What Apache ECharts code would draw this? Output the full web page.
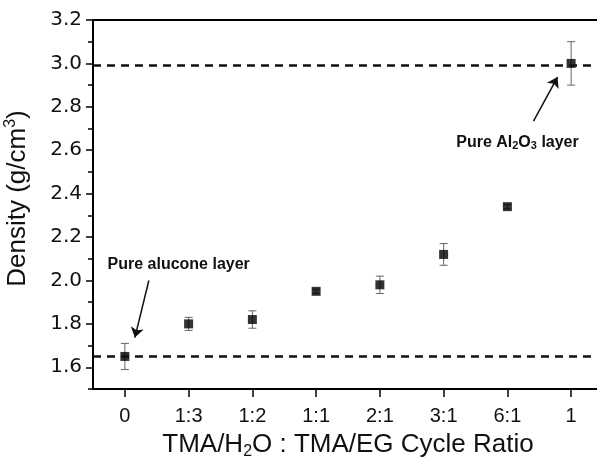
<!DOCTYPE html>
<html>
<head>
<meta charset="utf-8">
<script src="https://cdn.jsdelivr.net/npm/echarts@6/dist/echarts.min.js"></script>
<style>
  html, body { margin: 0; padding: 0; background: #fff; }
  #chart { width: 597px; height: 458px; }
</style>
</head>
<body>
<div id="chart"></div>
<script>
const ratioLabels = ['0', '1:3', '1:2', '1:1', '2:1', '3:1', '6:1', '1'];
const densityValues = [1.65, 1.80, 1.82, 1.95, 1.98, 2.12, 2.34, 3.00];
const densityErrors = [0.06, 0.03, 0.04, 0.01, 0.04, 0.05, 0.01, 0.10];
const aluconeDensity = 1.645;
const aluminaDensity = 2.99;
const majorTicks = [1.6, 1.8, 2.0, 2.2, 2.4, 2.6, 2.8, 3.0, 3.2];
const minorTicks = [1.5, 1.7, 1.9, 2.1, 2.3, 2.5, 2.7, 2.9, 3.1];

const chart = echarts.init(document.getElementById('chart'));

const positions = ratioLabels.map((_, i) => i);
const points = densityValues.map((v, i) => [i, v]);
const errData = densityValues.map((v, i) => [i, v, densityErrors[i]]);

const sans = 'Liberation Sans';

const option = {
  animation: false,
  backgroundColor: '#fff',
  grid: {
    left: 93, top: 20, right: -6, bottom: 69,
    outerBoundsMode: 'none',
    containLabel: false,
    show: true, borderColor: '#000', borderWidth: 2
  },
  xAxis: {
    type: 'value',
    min: -0.5,
    max: 7.5,
    axisLine: { show: true, onZero: false, lineStyle: { color: '#000', width: 2 } },
    axisTick: { show: true, customValues: positions, length: 8, lineStyle: { color: '#000', width: 1.5 } },
    axisLabel: {
      customValues: positions,
      formatter: v => ratioLabels[v],
      margin: 17,
      fontFamily: sans, fontSize: 20, color: '#111'
    },
    splitLine: { show: false },
    name: '{m|TMA/H}{sub|2}{m|O : TMA/EG Cycle Ratio}',
    nameLocation: 'middle',
    nameGap: 41,
    nameTextStyle: {
      rich: {
        m: { fontFamily: sans, fontSize: 26, lineHeight: 30, color: '#111' },
        sub: { fontFamily: sans, fontSize: 16, lineHeight: 16, verticalAlign: 'bottom', color: '#111' }
      }
    }
  },
  yAxis: [
    {
      type: 'value',
      position: 'left',
      min: 1.5,
      max: 3.2,
      axisLine: { show: true, onZero: false, lineStyle: { color: '#000', width: 2 } },
      axisTick: { show: true, customValues: majorTicks, length: 7, lineStyle: { color: '#000', width: 1.5 } },
      axisLabel: {
        customValues: majorTicks,
        formatter: v => v.toFixed(1),
        margin: 11,
        fontFamily: 'DejaVu Sans', fontSize: 20, color: '#111'
      },
      splitLine: { show: false },
      name: '{m|Density (g/cm}{sup|3}{m|)}',
      nameLocation: 'middle',
      nameGap: 60,
      nameTextStyle: {
        padding: [0, 0, 0, 12],
        rich: {
          m: { fontFamily: sans, fontSize: 26, lineHeight: 30, color: '#111' },
          sup: { fontFamily: sans, fontSize: 16, lineHeight: 16, verticalAlign: 'top', color: '#111' }
        }
      }
    },
    {
      type: 'value',
      position: 'left',
      min: 1.5,
      max: 3.2,
      axisLine: { show: false, onZero: false },
      axisTick: { show: true, customValues: minorTicks, length: 5, lineStyle: { color: '#000', width: 1.5 } },
      axisLabel: { show: false },
      splitLine: { show: false }
    }
  ],
  series: [
    {
      type: 'custom',
      silent: true,
      data: errData,
      renderItem: (params, api) => {
        const x = api.value(0), v = api.value(1), e = api.value(2);
        const hi = api.coord([x, v + e]);
        const lo = api.coord([x, v - e]);
        const w = 4;
        const style = { stroke: '#666', lineWidth: 1 };
        return {
          type: 'group',
          children: [
            { type: 'line', shape: { x1: hi[0], y1: hi[1], x2: lo[0], y2: lo[1] }, style },
            { type: 'line', shape: { x1: hi[0] - w, y1: hi[1], x2: hi[0] + w, y2: hi[1] }, style },
            { type: 'line', shape: { x1: lo[0] - w, y1: lo[1], x2: lo[0] + w, y2: lo[1] }, style }
          ]
        };
      },
      z: 2
    },
    {
      type: 'scatter',
      data: points,
      symbol: 'rect',
      symbolSize: 9,
      itemStyle: { color: '#000' },
      z: 3,
      markLine: {
        silent: true,
        symbol: ['none', 'none'],
        label: { show: false },
        data: [
          { yAxis: aluminaDensity, lineStyle: { type: [8, 6], color: '#111', width: 2.5 } },
          { yAxis: aluconeDensity, lineStyle: { type: [8, 6], color: '#111', width: 2.5 } },
          [
            { coord: [0.376, 2.0], symbol: 'none', lineStyle: { type: 'solid', color: '#111', width: 1.5 } },
            { coord: [0.157, 1.737], symbol: 'arrow', symbolSize: 10 }
          ],
          [
            { coord: [6.41, 2.734], symbol: 'none', lineStyle: { type: 'solid', color: '#111', width: 1.5 } },
            { coord: [6.787, 2.937], symbol: 'arrow', symbolSize: 10 }
          ]
        ]
      },
      markPoint: {
        silent: true,
        symbol: 'circle',
        symbolSize: 1,
        itemStyle: { color: 'rgba(0,0,0,0)' },
        label: {
          show: true,
          position: 'right',
          distance: 0,
          fontFamily: sans, fontWeight: 'bold', fontSize: 16, color: '#111',
          rich: {
            b: { fontFamily: sans, fontWeight: 'bold', fontSize: 16, lineHeight: 19, color: '#111' },
            s: { fontFamily: sans, fontWeight: 'bold', fontSize: 11, lineHeight: 11, verticalAlign: 'bottom', color: '#111' }
          }
        },
        data: [
          { coord: [-0.28, 2.074], value: 0, label: { formatter: '{b|Pure alucone layer}' } },
          { coord: [5.19, 2.637], value: 0, label: { formatter: '{b|Pure Al}{s|2}{b|O}{s|3}{b| layer}' } }
        ]
      }
    }
  ]
};

chart.setOption(option);
</script>
</body>
</html>
